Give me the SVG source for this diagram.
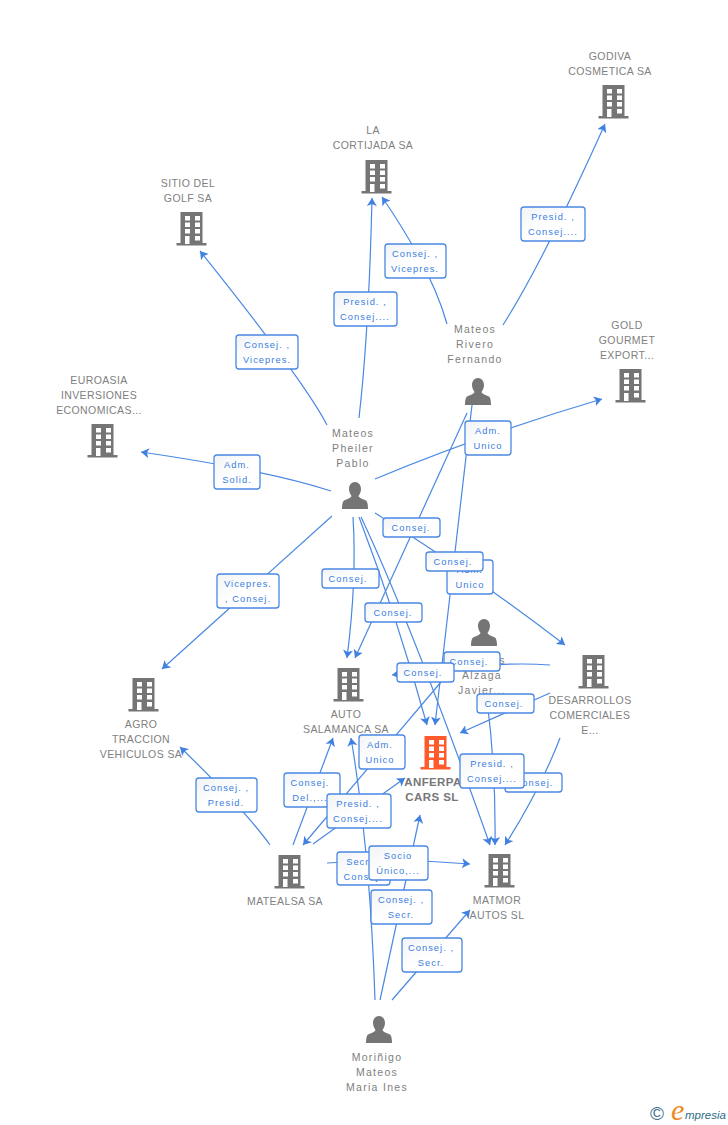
<svg xmlns="http://www.w3.org/2000/svg" width="728" height="1125" viewBox="0 0 728 1125">
<style>
text{font-family:"Liberation Sans",Arial,sans-serif}
.n{font-size:10.5px;fill:#808080;text-anchor:middle;letter-spacing:.4px}
.p{letter-spacing:1.3px}
.b{font-weight:bold;font-size:11.5px;letter-spacing:.4px;fill:#777}
.c path{fill:none;stroke:#4a88e2;stroke-width:1.2;marker-end:url(#a)}
.l rect{fill:url(#g);stroke:#4a88e2;stroke-width:1.3}
.l text{font-size:9.3px;fill:#3b7de0;text-anchor:middle;letter-spacing:1.05px}
.g{fill:#757575}
</style>
<defs>
<linearGradient id="g" x1="0" y1="0" x2="1" y2="1"><stop offset="0" stop-color="#f1f3f5"/><stop offset=".5" stop-color="#fff"/></linearGradient>
<marker id="a" markerUnits="userSpaceOnUse" markerWidth="9" markerHeight="11" refX="8" refY="5.500" orient="auto" viewBox="0 0 9 11"><path d="M8,5.500 L0,.5 L2,5.500 L0,10.500 Z" fill="#3f80e0"/></marker>
<symbol id="bd" width="31" height="34" viewBox="0 0 31 34" overflow="visible">
<path d="M4.500,0H26.500V31H30.500V33.500H.5V31H4.500Z"/>
<g fill="#fff"><rect x="9" y="4" width="5" height="4.500"/><rect x="19" y="4" width="5" height="4.500"/><rect x="9" y="10.500" width="5" height="4.500"/><rect x="19" y="10.500" width="5" height="4.500"/><rect x="9" y="17" width="5" height="4.500"/><rect x="19" y="17" width="5" height="4.500"/><rect x="9" y="24" width="4.500" height="8"/><rect x="19" y="24" width="5" height="4.500"/></g>
</symbol>
<symbol id="pr" width="26" height="28" viewBox="0 0 26 28" overflow="visible">
<path d="M13,0C16.500,0 19,3 19,7C19,10 17.500,12.500 16.500,14C17,16 21,17 24,18.500C25.500,19.500 26,23 26,27H0C0,23 .5,19.500 2,18.500C5,17 9,16 9.500,14C8.500,12.500 7,10 7,7C7,3 9.500,0 13,0Z"/>
</symbol>
</defs>
<rect width="728" height="1125" fill="#fff"/>
<g id="connectors" class="c">
<path d="M503,325Q543,262 605,124"/>
<path d="M447,324Q432,270 382,197"/>
<path d="M359,418Q369,330 372,198"/>
<path d="M327,425Q305,382 200,251" />
<path d="M331,491Q265,470 141,452"/>
<path d="M375,479Q480,435 602,399"/>
<path d="M332,516L162,669"/>
<path d="M353,517Q357,580 347,658"/>
<path d="M359,517Q398,620 427,725"/>
<path d="M361,517Q412,625 490,845"/>
<path d="M375,513Q470,572 565,645"/>
<path d="M467,413L355,658"/>
<path d="M472,405Q452,580 435,725"/>
<path d="M550,665Q510,662 455,668T392,675"/>
<path d="M550,693L460,733"/>
<path d="M560,738Q540,790 505,845"/>
<path d="M487,700Q496,770 495,845"/>
<path d="M441,682L303,845"/>
<path d="M313,844L405,778"/>
<path d="M293,845L333,738"/>
<path d="M270,845Q245,810 180,747"/>
<path d="M327,863Q400,858 470,864"/>
<path d="M375,1000Q370,850 351,738"/>
<path d="M380,1000L420,815"/>
<path d="M392,1000L470,910"/>
</g>
<g id="godiva"><use href="#bd" x="598" y="85" class="g"/><text class="n" x="610" y="60">GODIVA</text><text class="n" x="610" y="75">COSMETICA SA</text></g>
<g id="cortijada"><use href="#bd" x="361" y="160" class="g"/><text class="n" x="373" y="134">LA</text><text class="n" x="373" y="149">CORTIJADA SA</text></g>
<g id="sitio"><use href="#bd" x="176" y="212" class="g"/><text class="n" x="188" y="187">SITIO DEL</text><text class="n" x="188" y="202">GOLF SA</text></g>
<g id="gold"><use href="#bd" x="615" y="369" class="g"/><text class="n" x="627" y="329">GOLD</text><text class="n" x="627" y="344">GOURMET</text><text class="n" x="627" y="359">EXPORT...</text></g>
<g id="euroasia"><use href="#bd" x="87" y="424" class="g"/><text class="n" x="99" y="384">EUROASIA</text><text class="n" x="99" y="399">INVERSIONES</text><text class="n" x="99" y="414">ECONOMICAS...</text></g>
<g id="agro"><use href="#bd" x="128" y="678" class="g"/><text class="n" x="141" y="728">AGRO</text><text class="n" x="141" y="743">TRACCION</text><text class="n" x="141" y="758">VEHICULOS SA</text></g>
<g id="auto"><use href="#bd" x="333" y="668" class="g"/><text class="n" x="346" y="718">AUTO</text><text class="n" x="346" y="733">SALAMANCA SA</text></g>
<g id="desarrollos"><use href="#bd" x="578" y="655" class="g"/><text class="n" x="590" y="704">DESARROLLOS</text><text class="n" x="590" y="719">COMERCIALES</text><text class="n" x="590" y="734">E...</text></g>
<g id="anferpa"><use href="#bd" x="420" y="736" fill="#ff5a2c"/><text class="n b" x="433" y="786">ANFERPA</text><text class="n b" x="432" y="801">CARS SL</text></g>
<g id="matealsa"><use href="#bd" x="274" y="855" class="g"/><text class="n" x="285" y="905">MATEALSA SA</text></g>
<g id="matmor"><use href="#bd" x="484" y="854" class="g"/><text class="n" x="497" y="904">MATMOR</text><text class="n" x="497" y="919">AUTOS SL</text></g>
<g id="rivero"><use href="#pr" x="465" y="378" class="g"/><text class="n p" x="475" y="333">Mateos</text><text class="n p" x="475" y="348">Rivero</text><text class="n p" x="475" y="363">Fernando</text></g>
<g id="pheiler"><use href="#pr" x="342" y="482" class="g"/><text class="n p" x="353" y="437">Mateos</text><text class="n p" x="353" y="452">Pheiler</text><text class="n p" x="353" y="467">Pablo</text></g>
<g id="alzaga"><use href="#pr" x="471" y="619" class="g"/><text class="n" x="502" y="664">s</text><text class="n p" x="482" y="679">Alzaga</text><text class="n p" x="482" y="694">Javier...</text></g>
<g id="morinigo"><use href="#pr" x="366" y="1016" class="g"/><text class="n p" x="377" y="1061">Moriñigo</text><text class="n p" x="377" y="1076">Mateos</text><text class="n p" x="377" y="1091">Maria Ines</text></g>
<g id="labels" class="l">
<g><rect x="521" y="207" width="64" height="34" rx="3"/><text x="553" y="220">Presid. ,</text><text x="553" y="235">Consej....</text></g>
<g><rect x="385" y="244" width="61" height="34" rx="3"/><text x="415" y="257">Consej. ,</text><text x="415" y="272">Vicepres.</text></g>
<g><rect x="334" y="292" width="63" height="34" rx="3"/><text x="365" y="305">Presid. ,</text><text x="365" y="320">Consej....</text></g>
<g><rect x="236" y="335" width="62" height="34" rx="3"/><text x="267" y="348">Consej. ,</text><text x="267" y="363">Vicepres.</text></g>
<g><rect x="465" y="421" width="46" height="34" rx="3"/><text x="488" y="434">Adm.</text><text x="488" y="449">Unico</text></g>
<g><rect x="214" y="455" width="46" height="34" rx="3"/><text x="237" y="468">Adm.</text><text x="237" y="483">Solid.</text></g>
<g><rect x="383" y="518" width="57" height="19" rx="3"/><text x="411" y="531">Consej.</text></g>
<g><rect x="447" y="560" width="46" height="34" rx="3"/><text x="470" y="573">Adm.</text><text x="470" y="588">Unico</text></g>
<g><rect x="426" y="552" width="57" height="19" rx="3"/><text x="453" y="565">Consej.</text></g>
<g><rect x="322" y="569" width="57" height="19" rx="3"/><text x="348" y="582">Consej.</text></g>
<g><rect x="217" y="574" width="62" height="34" rx="3"/><text x="248" y="587">Vicepres.</text><text x="248" y="602">, Consej.</text></g>
<g><rect x="365" y="603" width="57" height="19" rx="3"/><text x="393" y="616">Consej.</text></g>
<g><rect x="444" y="652" width="56" height="19" rx="3"/><text x="469" y="665">Consej.</text></g>
<g><rect x="397" y="663" width="57" height="19" rx="3"/><text x="423" y="676">Consej.</text></g>
<g><rect x="477" y="694" width="57" height="19" rx="3"/><text x="504" y="707">Consej.</text></g>
<g><rect x="359" y="735" width="46" height="34" rx="3"/><text x="380" y="748">Adm.</text><text x="380" y="763">Unico</text></g>
<g><rect x="505" y="773" width="57" height="19" rx="3"/><text x="534" y="786">Consej.</text></g>
<g><rect x="460" y="754" width="64" height="34" rx="3"/><text x="492" y="767">Presid. ,</text><text x="492" y="782">Consej....</text></g>
<g><rect x="196" y="778" width="61" height="34" rx="3"/><text x="226" y="791">Consej. ,</text><text x="226" y="806">Presid.</text></g>
<g><rect x="284" y="773" width="56" height="34" rx="3"/><text x="310" y="786">Consej.</text><text x="310" y="801">Del.,...</text></g>
<g><rect x="327" y="794" width="64" height="34" rx="3"/><text x="358" y="807">Presid. ,</text><text x="358" y="822">Consej....</text></g>
<g><rect x="337" y="852" width="53" height="33" rx="3"/><text x="363" y="865">Secr. ,</text><text x="363" y="880">Consej.</text></g>
<g><rect x="369" y="846" width="59" height="34" rx="3"/><text x="398" y="859">Socio</text><text x="398" y="874">Único,...</text></g>
<g><rect x="371" y="890" width="61" height="34" rx="3"/><text x="401" y="903">Consej. ,</text><text x="401" y="918">Secr.</text></g>
<g><rect x="402" y="938" width="60" height="34" rx="3"/><text x="431" y="951">Consej. ,</text><text x="431" y="966">Secr.</text></g>
</g>
<g id="logo">
<text x="650" y="1120" font-size="19" fill="#3f7390">©</text>
<text x="671" y="1120" font-size="30" font-style="italic" fill="#f08a24" style="font-family:'Liberation Serif',serif">e</text>
<text x="685" y="1119" font-size="11.500" font-style="italic" fill="#2d6a85">mpresia</text>
</g>
</svg>
